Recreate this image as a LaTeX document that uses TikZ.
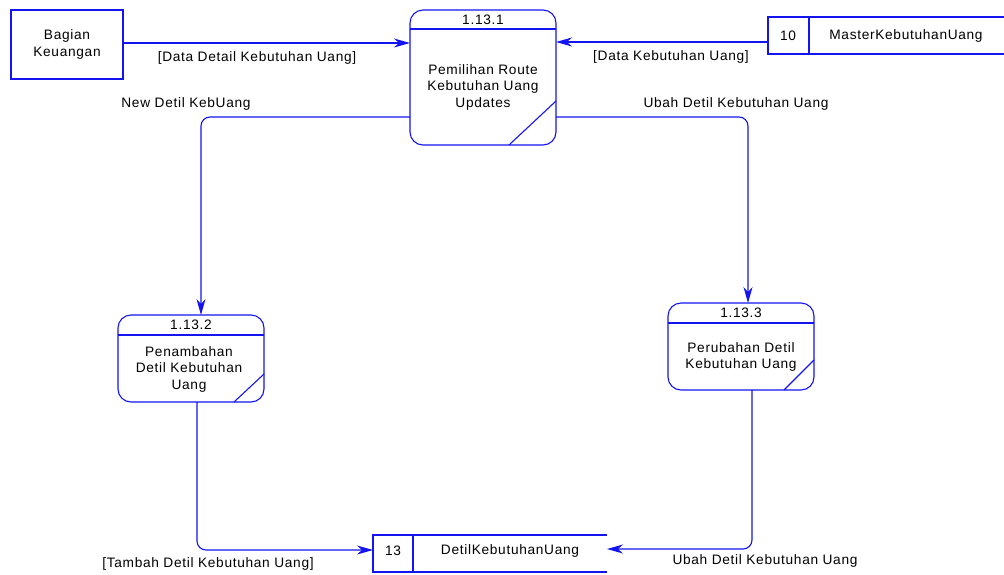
\documentclass[tikz,border=0pt]{standalone}
\usepackage{fontspec}
\setmainfont[LetterSpace=5]{Liberation Sans}
\usetikzlibrary{arrows.meta}
\definecolor{dfd}{RGB}{20,20,240}
\begin{document}
\begin{tikzpicture}[x=1pt,y=-1pt,
  font=\fontsize{13.7}{16.5}\selectfont,
  line/.style={draw=dfd,line width=1.1pt},
  flow/.style={line,-{Stealth[length=16pt,width=9pt,inset=5pt]},rounded corners=9pt},
  lbl/.style={inner sep=0pt,text=black},
  ptext/.style={align=center,inner sep=0pt,text=black}]
\useasboundingbox (0,0) rectangle (1004,574);

% external entity
\draw[line] (11,10) rectangle (123,79);
\node[ptext] (bk) at (67,44.5) {Bagian\\Keuangan};
\coordinate (bkR) at (123,43);

% process 1.13.1
\draw[line,rounded corners=13pt] (410,10) rectangle (556,145);
\draw[line] (410,29) -- (556,29);
\draw[line] (509,145) -- (556,101);
\node[ptext] at (483,19.5) {1.13.1};
\node[ptext] (p1) at (483,87) {Pemilihan Route\\Kebutuhan Uang\\Updates};

% process 1.13.2
\draw[line,rounded corners=13pt] (118,315) rectangle (264,402);
\draw[line] (118,335) -- (264,335);
\draw[line] (234,402) -- (264,374);
\node[ptext] at (191,325) {1.13.2};
\node[ptext] (p2) at (189,369) {Penambahan\\Detil Kebutuhan\\Uang};

% process 1.13.3
\draw[line,rounded corners=13pt] (668,303) rectangle (814,390);
\draw[line] (668,323) -- (814,323);
\draw[line] (784,390) -- (814,360);
\node[ptext] at (741,313) {1.13.3};
\node[ptext] (p3) at (741,357) {Perubahan Detil\\Kebutuhan Uang};

% data store 10
\draw[line] (1004,17) -- (768,17) -- (768,54) -- (1004,54);
\draw[line] (809,17) -- (809,54);
\node[ptext] (d10n) at (788,36) {10};
\node[ptext] (d10) at (906,36) {MasterKebutuhanUang};

% data store 13
\draw[line] (607,535) -- (373,535) -- (373,572) -- (607,572);
\draw[line] (413,535) -- (413,572);
\node[ptext] (d13n) at (393,551) {13};
\node[ptext] (d13) at (510,551) {DetilKebutuhanUang};

% data flows
\draw[flow] (bkR) -- (410,43);
\node[lbl] at (257,58) {[Data Detail Kebutuhan Uang]};

\draw[flow] (768,42) -- (556,42);
\node[lbl] at (671,57) {[Data Kebutuhan Uang]};

\draw[flow] (410,117) -- (201,117) -- (201,315);
\node[lbl] at (186,104) {New Detil KebUang};

\draw[flow] (556,117) -- (748,117) -- (748,303);
\node[lbl] at (736,104) {Ubah Detil Kebutuhan Uang};

\draw[flow] (197,402) -- (197,550) -- (373,550);
\node[lbl] at (208,564) {[Tambah Detil Kebutuhan Uang]};

\draw[flow] (752,390) -- (752,549) -- (607,549);
\node[lbl] at (765,561) {Ubah Detil Kebutuhan Uang};
\end{tikzpicture}
\end{document}
